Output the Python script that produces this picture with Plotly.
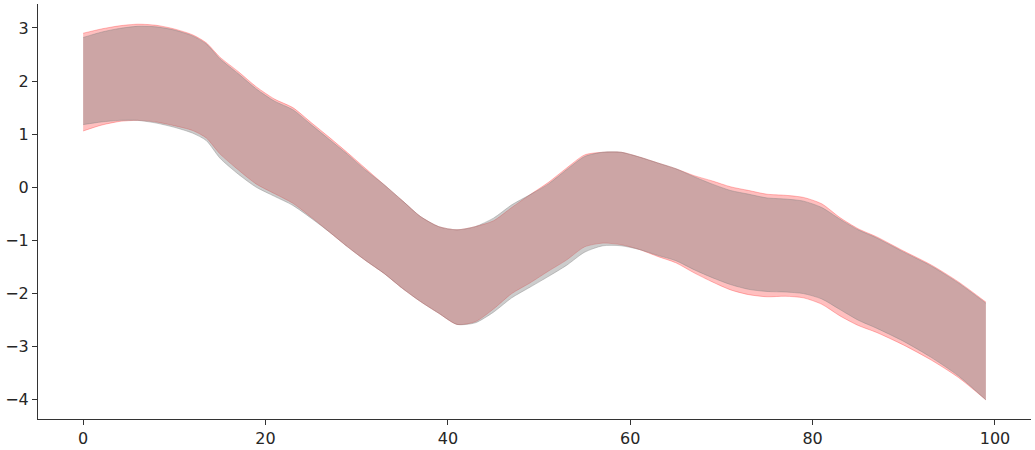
import plotly.graph_objects as go

# x positions
x_pts = [0, 2, 4, 6, 8, 10, 12, 13.5, 15, 17, 19, 21, 23, 25, 27, 29, 31, 33, 35, 37,
         39, 41, 43, 45, 47, 49, 51, 53, 55, 57, 59, 61, 63, 65, 67, 69, 71, 73, 75, 77,
         79, 81, 83, 85, 87, 90, 93, 96, 99]

grey_upper = [2.82, 2.92, 2.99, 3.03, 3.02, 2.96, 2.85, 2.70, 2.42, 2.14, 1.85, 1.62, 1.46,
              1.18, 0.90, 0.62, 0.32, 0.05, -0.25, -0.55, -0.74, -0.80, -0.74, -0.58, -0.33,
              -0.14, 0.06, 0.33, 0.58, 0.66, 0.66, 0.57, 0.46, 0.35, 0.20, 0.06, -0.06, -0.13,
              -0.20, -0.22, -0.26, -0.38, -0.60, -0.80, -0.95, -1.22, -1.48, -1.80, -2.18]
grey_lower = [1.18, 1.23, 1.26, 1.26, 1.21, 1.13, 1.02, 0.88, 0.55, 0.25, 0.00, -0.17, -0.34,
              -0.58, -0.84, -1.12, -1.38, -1.62, -1.90, -2.15, -2.37, -2.58, -2.55, -2.35,
              -2.08, -1.88, -1.68, -1.47, -1.22, -1.10, -1.10, -1.17, -1.28, -1.38, -1.55,
              -1.70, -1.83, -1.92, -1.96, -1.97, -2.00, -2.10, -2.30, -2.50, -2.65, -2.90,
              -3.20, -3.55, -4.00]

red_upper = [2.90, 2.98, 3.04, 3.07, 3.05, 2.98, 2.87, 2.72, 2.45, 2.18, 1.89, 1.66, 1.50,
             1.22, 0.94, 0.65, 0.35, 0.05, -0.25, -0.55, -0.74, -0.80, -0.74, -0.63, -0.38,
             -0.14, 0.09, 0.36, 0.61, 0.66, 0.66, 0.57, 0.46, 0.35, 0.22, 0.12, 0.01, -0.06,
             -0.13, -0.15, -0.19, -0.31, -0.57, -0.78, -0.93, -1.20, -1.46, -1.78, -2.16]
red_lower = [1.06, 1.17, 1.24, 1.26, 1.23, 1.16, 1.07, 0.93, 0.63, 0.33, 0.06, -0.12, -0.30,
             -0.56, -0.84, -1.12, -1.38, -1.62, -1.90, -2.15, -2.37, -2.58, -2.53, -2.29,
             -2.00, -1.80, -1.58, -1.37, -1.12, -1.05, -1.08, -1.17, -1.30, -1.42, -1.61,
             -1.78, -1.93, -2.02, -2.06, -2.05, -2.08, -2.20, -2.42, -2.60, -2.73, -2.97,
             -3.25, -3.58, -4.00]

x_ticks = [0, 20, 40, 60, 80, 100]
y_ticks = [-4, -3, -2, -1, 0, 1, 2, 3]


def _band(fig, upper, lower, color):
    # lower edge first, then the upper edge filled down to it
    line = dict(color=color, width=1, shape="spline", smoothing=0.7)
    fig.add_trace(go.Scatter(x=x_pts, y=lower, mode="lines", line=line,
                             hoverinfo="skip", showlegend=False))
    fig.add_trace(go.Scatter(x=x_pts, y=upper, mode="lines", line=line,
                             fill="tonexty", fillcolor=color,
                             hoverinfo="skip", showlegend=False))


fig = go.Figure()
_band(fig, red_upper, red_lower, "rgba(255,0,0,0.25)")
_band(fig, grey_upper, grey_lower, "rgba(128,128,128,0.4)")

_AX = dict(showgrid=False, zeroline=False, showline=True, linecolor="#333333", linewidth=1,
           ticks="outside", ticklen=5, tickcolor="#333333", automargin=False,
           tickfont=dict(size=16, color="#262626"))

fig.update_layout(
    width=1035, height=450,
    paper_bgcolor="white", plot_bgcolor="white",
    font=dict(family="DejaVu Sans", size=16, color="#262626"),
    margin=dict(l=38, r=4, t=4, b=31),
    xaxis=dict(**_AX, range=[-4.95, 103.95], tickvals=x_ticks),
    yaxis=dict(**_AX, range=[-4.36, 3.45], tickvals=y_ticks),
)

fig.write_html("out.html", config={"displayModeBar": False},
               post_script="document.body.style.margin='0';")
